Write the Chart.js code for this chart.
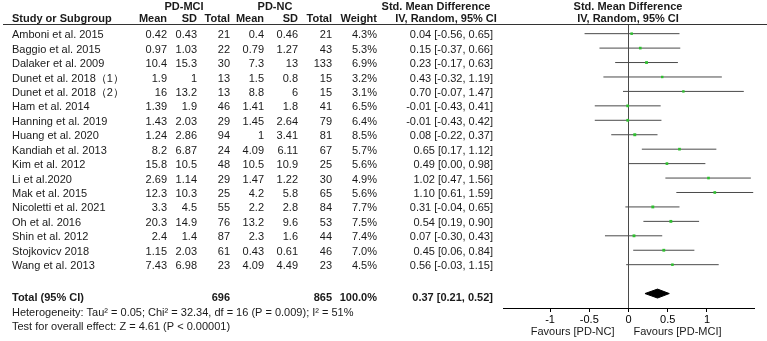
<!DOCTYPE html>
<html>
<head>
<meta charset="utf-8">
<script src="https://cdn.jsdelivr.net/npm/chart.js@4/dist/chart.umd.min.js"></script>
<style>
html,body{margin:0;padding:0;background:#fff;}
#wrap{position:relative;width:767px;height:341px;}
</style>
</head>
<body>
<div id="wrap"><canvas id="c" width="767" height="341"></canvas></div>
<script>
const studies = ["Amboni et al. 2015","Baggio et al. 2015","Dalaker et al. 2009","Dunet et al. 2018\uFF081\uFF09","Dunet et al. 2018\uFF082\uFF09","Ham et al. 2014","Hanning et al. 2019","Huang et al. 2020","Kandiah et al. 2013","Kim et al. 2012","Li et al.2020","Mak et al. 2015","Nicoletti et al. 2021","Oh et al. 2016","Shin et al. 2012","Stojkovicv 2018","Wang et al. 2013"];
const mciMean = [0.42,0.97,10.4,1.9,16,1.39,1.43,1.24,8.2,15.8,2.69,12.3,3.3,20.3,2.4,1.15,7.43];
const mciSD   = [0.43,1.03,15.3,1,13.2,1.9,2.03,2.86,6.87,10.5,1.14,10.3,4.5,14.9,1.4,2.03,6.98];
const mciN    = [21,22,30,13,13,46,29,94,24,48,29,25,55,76,87,61,23];
const ncMean  = [0.4,0.79,7.3,1.5,8.8,1.41,1.45,1,4.09,10.5,1.47,4.2,2.2,13.2,2.3,0.43,4.09];
const ncSD    = [0.46,1.27,13,0.8,6,1.8,2.64,3.41,6.11,10.9,1.22,5.8,2.8,9.6,1.6,0.61,4.49];
const ncN     = [21,43,133,15,15,41,79,81,67,25,30,65,84,53,44,46,23];
const weights = [4.3,5.3,6.9,3.2,3.1,6.5,6.4,8.5,5.7,5.6,4.9,5.6,7.7,7.5,7.4,7.0,4.5];
const smd     = [0.04,0.15,0.23,0.43,0.70,-0.01,-0.01,0.08,0.65,0.49,1.02,1.10,0.31,0.54,0.07,0.45,0.56];
const ciLow   = [-0.56,-0.37,-0.17,-0.32,-0.07,-0.43,-0.43,-0.22,0.17,0.00,0.47,0.61,-0.04,0.19,-0.30,0.06,-0.03];
const ciHigh  = [0.65,0.66,0.63,1.19,1.47,0.41,0.42,0.37,1.12,0.98,1.56,1.59,0.65,0.90,0.43,0.84,1.15];
const totalMciN = 696, totalNcN = 865, totalWeight = 100.0;
const pooled = {est:0.37, lo:0.21, hi:0.52};
const xTicks = [-1,-0.5,0,0.5,1];
const heterogeneityText = "Heterogeneity: Tau\u00B2 = 0.05; Chi\u00B2 = 32.34, df = 16 (P = 0.009); I\u00B2 = 51%";
const overallText = "Test for overall effect: Z = 4.61 (P < 0.00001)";
const favLeft = "Favours [PD-NC]", favRight = "Favours [PD-MCI]";

const FONT = '"Liberation Sans", Arial, Helvetica, sans-serif';
const TXT = '#1a1a1a';
const LINE = '#4a4a4a';
const TOTAL_ROW = 18;
Chart.defaults.font.family = FONT;
Chart.defaults.font.size = 11;
Chart.defaults.color = TXT;

const datasets = [];
// zero line
datasets.push({data:[{x:0,y:-0.6},{x:0,y:19}], showLine:true, borderColor:LINE, borderWidth:1, pointRadius:0, order:2});
// CI lines
studies.forEach((s,i)=>{
  datasets.push({data:[{x:ciLow[i],y:i},{x:ciHigh[i],y:i}], showLine:true, borderColor:LINE, borderWidth:1, pointRadius:0, order:1});
});
// point estimates
datasets.push({data:smd.map((v,i)=>({x:v,y:i})), showLine:false, pointStyle:'rect',
  pointRadius:weights.map(w=>1.5+w*0.07), backgroundColor:'#2fbf2f', borderColor:'#2fbf2f', borderWidth:0, order:0});
// diamond
const dh = 0.31;
datasets.push({data:[{x:pooled.lo,y:TOTAL_ROW},{x:pooled.est,y:TOTAL_ROW-dh},{x:pooled.hi,y:TOTAL_ROW},{x:pooled.est,y:TOTAL_ROW+dh},{x:pooled.lo,y:TOTAL_ROW}],
  showLine:true, fill:'shape', backgroundColor:'#000', borderColor:'#000', borderWidth:1, pointRadius:0, tension:0, order:0});

const fmt2 = v => v.toFixed(2);
const tablePlugin = {
  id:'forestTable',
  afterDraw(chart){
    const ctx = chart.ctx, ys = chart.scales.y, xs = chart.scales.x;
    ctx.save();
    ctx.fillStyle = TXT;
    ctx.textBaseline = 'middle';
    const put = (t,x,y,align,bold) => {
      ctx.font = (bold?'bold ':'') + '11px ' + FONT;
      ctx.textAlign = align; ctx.fillText(t,x,y);
    };
    // header line
    ctx.strokeStyle = '#333'; ctx.lineWidth = 1;
    ctx.beginPath(); ctx.moveTo(3,24.5); ctx.lineTo(767,24.5); ctx.stroke();
    // headers
    put('PD-MCI',184,7,'center',true);
    put('PD-NC',275,7,'center',true);
    put('Std. Mean Difference',436,7,'center',true);
    put('Std. Mean Difference',628,7,'center',true);
    put('Study or Subgroup',12,19,'left',true);
    put('Mean',167,19,'right',true); put('SD',197,19,'right',true); put('Total',230,19,'right',true);
    put('Mean',264,19,'right',true); put('SD',298,19,'right',true); put('Total',332,19,'right',true);
    put('Weight',377,19,'right',true);
    put('IV, Random, 95% CI',446,19,'center',true);
    put('IV, Random, 95% CI',628,19,'center',true);
    studies.forEach((s,i)=>{
      const y = ys.getPixelForValue(i)+1.5;
      put(s,12,y,'left');
      put(String(mciMean[i]),167,y,'right'); put(String(mciSD[i]),197,y,'right'); put(String(mciN[i]),230,y,'right');
      put(String(ncMean[i]),264,y,'right'); put(String(ncSD[i]),298,y,'right'); put(String(ncN[i]),332,y,'right');
      put(weights[i].toFixed(1)+'%',377,y,'right');
      put(fmt2(smd[i])+' ['+fmt2(ciLow[i])+', '+fmt2(ciHigh[i])+']',493,y,'right');
    });
    const yt = ys.getPixelForValue(TOTAL_ROW)+4.5;
    put('Total (95% CI)',12,yt,'left',true);
    put(String(totalMciN),230,yt,'right',true);
    put(String(totalNcN),332,yt,'right',true);
    put(totalWeight.toFixed(1)+'%',377,yt,'right',true);
    put(fmt2(pooled.est)+' ['+fmt2(pooled.lo)+', '+fmt2(pooled.hi)+']',493,yt,'right',true);
    put(heterogeneityText,12,yt+14.5,'left');
    put(overallText,12,yt+29,'left');
    const x0 = xs.getPixelForValue(0);
    put(favLeft,x0-14,331.5,'right');
    put(favRight,x0+5,331.5,'left');
    ctx.restore();
  }
};

new Chart(document.getElementById('c'), {
  type:'scatter',
  data:{datasets},
  options:{
    responsive:false, animation:false, devicePixelRatio:1,
    layout:{padding:{left:503,right:13,top:25,bottom:0}},
    plugins:{legend:{display:false}, tooltip:{enabled:false}},
    elements:{line:{tension:0}},
    scales:{
      x:{type:'linear', min:-1.6, max:1.6,
        afterBuildTicks:s=>{s.ticks = xTicks.map(v=>({value:v}));},
        afterFit:s=>{s.height = 33;},
        ticks:{color:'#000', font:{size:11}, padding:1, maxRotation:0, autoSkip:false,
          callback:v=>String(v)},
        grid:{drawOnChartArea:false, drawTicks:true, tickLength:4, color:'#000'},
        border:{display:true, color:'#000', width:1}
      },
      y:{type:'linear', min:-0.6, max:19, reverse:true, display:false}
    }
  },
  plugins:[tablePlugin]
});
</script>
</body>
</html>
